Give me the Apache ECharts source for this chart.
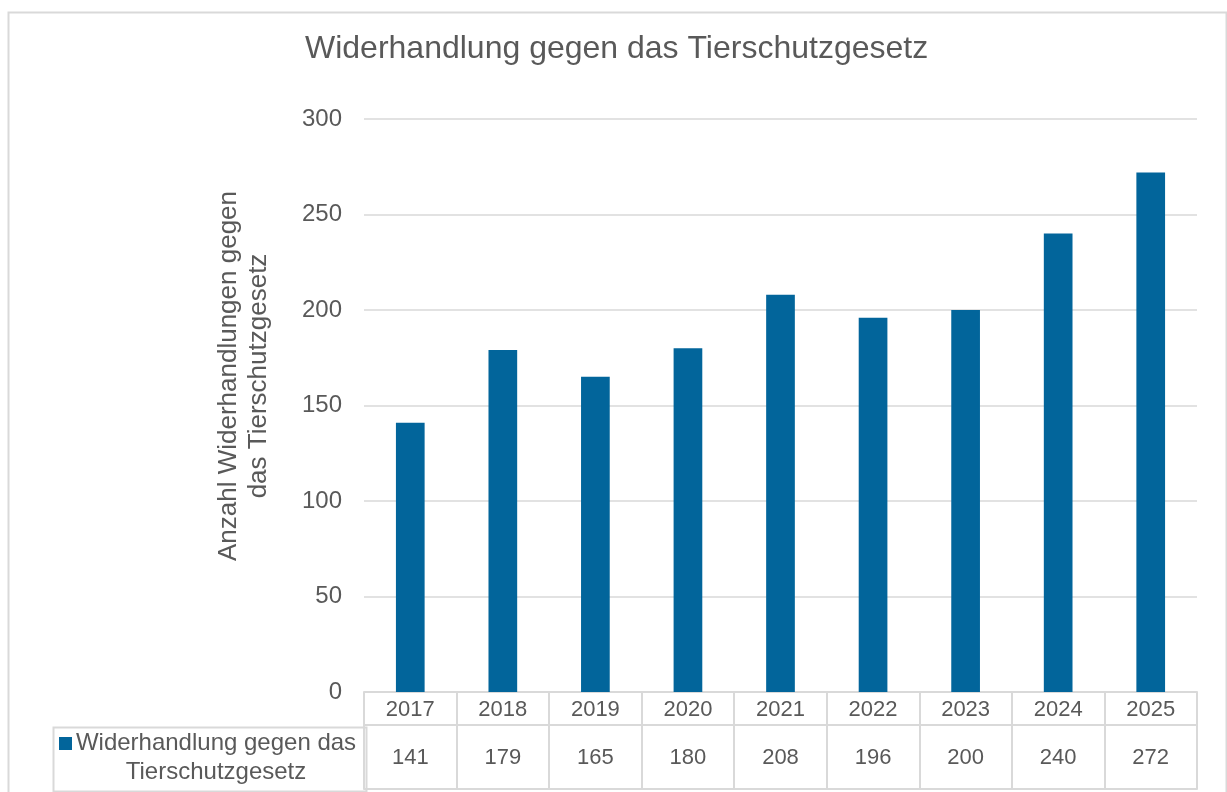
<!DOCTYPE html>
<html>
<head>
<meta charset="utf-8">
<script src="https://cdn.jsdelivr.net/npm/echarts@6/dist/echarts.min.js"></script>
<style>
html, body { margin: 0; padding: 0; background: #fff; }
#main { width: 1227px; height: 792px; }
</style>
</head>
<body>
<div id="main"></div>
<script>
var years = ['2017', '2018', '2019', '2020', '2021', '2022', '2023', '2024', '2025']
var counts = [141, 179, 165, 180, 208, 196, 200, 240, 272]
var seriesName = 'Widerhandlung gegen das Tierschutzgesetz'
var yTitle = 'Anzahl Widerhandlungen gegen\ndas Tierschutzgesetz'

var textColor = '#595959'
var lineColor = '#d9d9d9'
var barColor = '#02659b'
var baseFont = "'Liberation Sans', Arial, sans-serif"

var option = {
    animation: false,
    textStyle: { fontFamily: baseFont },
    title: {
        text: seriesName,
        left: 300,
        top: 28,
        textStyle: { color: textColor, fontSize: 32, fontWeight: 'normal' }
    },
    grid: { left: 364, right: 30, top: 119, bottom: 100 },
    yAxis: {
        type: 'value',
        min: 0,
        max: 300,
        interval: 50,
        axisLine: { show: false },
        axisTick: { show: false },
        axisLabel: { color: textColor, fontSize: 24, margin: 22 },
        splitLine: { lineStyle: { color: lineColor, width: 1.5 } }
    },
    xAxis: [{
        // table header row: years
        type: 'category',
        data: years,
        position: 'bottom',
        axisLine: { lineStyle: { color: lineColor, width: 2 } },
        axisTick: { show: true, length: 97, lineStyle: { color: lineColor, width: 2 } },
        axisLabel: { color: textColor, fontSize: 22, margin: 7 }
    }, {
        // table value row
        type: 'category',
        data: years,
        position: 'bottom',
        offset: 33,
        axisLine: { lineStyle: { color: lineColor, width: 2 } },
        axisTick: { show: false },
        axisLabel: {
            color: textColor, fontSize: 22, margin: 22,
            formatter: function (v, i) { return String(counts[i]) }
        }
    }, {
        // table bottom border
        type: 'category',
        data: years,
        position: 'bottom',
        offset: 97,
        axisLine: { lineStyle: { color: lineColor, width: 2 } },
        axisTick: { show: false },
        axisLabel: { show: false }
    }],
    series: [{
        name: seriesName,
        type: 'bar',
        xAxisIndex: 0,
        barWidth: '31%',
        itemStyle: { color: barColor },
        data: counts
    }],
    graphic: [{
        type: 'rect',
        left: 6, top: 10,
        shape: { width: 1218, height: 800 },
        style: { fill: 'none', stroke: lineColor, lineWidth: 2 },
        silent: true
    }, {
        type: 'text',
        x: 244, y: 376,
        rotation: Math.PI / 2,
        style: {
            text: yTitle,
            fill: textColor,
            font: '26px ' + baseFont,
            align: 'center',
            verticalAlign: 'middle',
            lineHeight: 30
        },
        silent: true
    }, {
        type: 'rect',
        left: 51, top: 725,
        shape: { width: 313, height: 64 },
        style: { fill: 'none', stroke: lineColor, lineWidth: 2 },
        silent: true
    }, {
        type: 'rect',
        left: 59, top: 737,
        shape: { width: 13, height: 13 },
        style: { fill: barColor },
        silent: true
    }, {
        type: 'text',
        x: 216, y: 729,
        style: {
            text: 'Widerhandlung gegen das\nTierschutzgesetz',
            fill: textColor,
            font: '24px ' + baseFont,
            align: 'center',
            verticalAlign: 'top',
            lineHeight: 29
        },
        silent: true
    }]
}

var myChart = echarts.init(document.getElementById('main'))
myChart.setOption(option)
</script>
</body>
</html>
